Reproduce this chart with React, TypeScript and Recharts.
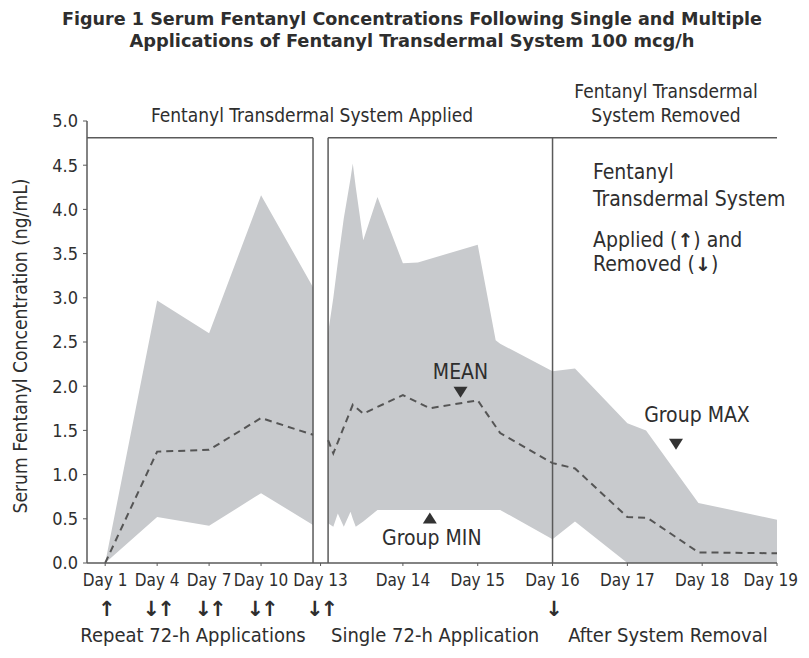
import {
  ComposedChart,
  Area,
  Line,
  XAxis,
  YAxis,
  ReferenceLine,
  ReferenceDot,
} from "recharts";

const FONT = "'Liberation Sans Narrow', 'DejaVu Sans Condensed', 'Arial Narrow', sans-serif";
const ARROW_FONT = "'DejaVu Sans', sans-serif";
const INK = "#2e2e2e";
const BAND = "#c8cacd";
const RULE = "#5a5a5a";

// x layout: repeat phase = 1 unit per 3 days, single phase = 1.44 units per day
const REPEAT_START = 0.35;
const SINGLE_START = 4.64;
const SINGLE_STEP = 1.44;
const X_MAX = 13.28;
const repeatX = (day: number) => REPEAT_START + (day - 1) / 3;
const singleX = (day: number) => SINGLE_START + (day - 13) * SINGLE_STEP;

// repeat 72-h applications, days 1-13
const repeatDays = [1, 4, 7, 10, 13];
const repeatMean = [0, 1.26, 1.28, 1.64, 1.45];
const repeatMin = [0, 0.52, 0.42, 0.79, 0.43];
const repeatMax = [0, 2.97, 2.6, 4.16, 3.12];

// single 72-h application and after removal, days 13-19
const singleDays = [
  13.0, 13.07, 13.13, 13.21, 13.3, 13.33, 13.37, 13.47, 13.66, 14.0,
  14.2, 15.0, 15.24, 15.3, 16.0, 16.3, 17.0, 17.25, 17.95, 19.0,
];
const singleMin = [
  0.45, 0.41, 0.56, 0.41, 0.58, 0.5, 0.41, 0.47, 0.6, 0.6,
  0.6, 0.6, 0.6, 0.6, 0.27, 0.47, 0, 0, 0, 0,
];
const singleMax = [
  2.6, 3.0, 3.4, 3.9, 4.35, 4.52, 4.25, 3.65, 4.14, 3.39,
  3.4, 3.6, 2.52, 2.48, 2.17, 2.2, 1.58, 1.5, 0.68, 0.49,
];
const singleMeanDays = [13.0, 13.07, 13.33, 13.47, 14.0, 14.36, 15.0, 15.3, 16.0, 16.3, 17.0, 17.27, 17.95, 19.0];
const singleMean = [1.39, 1.24, 1.79, 1.69, 1.9, 1.75, 1.84, 1.47, 1.13, 1.07, 0.52, 0.51, 0.12, 0.11];

// tick labels and application arrows
const dayLabels = ["Day 1", "Day 4", "Day 7", "Day 10", "Day 13", "Day 14", "Day 15", "Day 16", "Day 17", "Day 18", "Day 19"];
const dayArrows = ["\u2191", "\u2193\u2191", "\u2193\u2191", "\u2193\u2191", "\u2193\u2191", "", "", "\u2193", "", "", ""];
const dayTicks = [
  repeatX(1), repeatX(4), repeatX(7), repeatX(10),
  (repeatX(13) + singleX(13)) / 2,
  singleX(14), singleX(15), singleX(16), singleX(17), singleX(18), singleX(19),
];
const yTicks = [0, 0.5, 1, 1.5, 2, 2.5, 3, 3.5, 4, 4.5, 5];
const BOX_TOP = 4.81;

const repeatBand = repeatDays.map((d, i) => ({ x: repeatX(d), range: [repeatMin[i], repeatMax[i]] }));
const repeatLine = repeatDays.map((d, i) => ({ x: repeatX(d), mean: repeatMean[i] }));
const singleBand = singleDays.map((d, i) => ({ x: singleX(d), range: [singleMin[i], singleMax[i]] }));
const singleLine = singleMeanDays.map((d, i) => ({ x: singleX(d), mean: singleMean[i] }));

function DayTick(props: any) {
  const { x, y, payload } = props;
  const i = dayTicks.findIndex((t) => Math.abs(t - payload.value) < 1e-6);
  if (i < 0) return null;
  const last = i === dayTicks.length - 1;
  return (
    <g fontFamily={FONT} fill={INK}>
      <text x={last ? x + 21 : x} y={y + 20} textAnchor={last ? "end" : "middle"} fontSize={17}>
        {dayLabels[i]}
      </text>
      <text x={x} y={y + 50} textAnchor="middle" fontSize={21} fontWeight="bold" fontFamily={ARROW_FONT} letterSpacing={-3}>
        {dayArrows[i]}
      </text>
    </g>
  );
}

// triangle marker with a caption, drawn at a data point
function Marker({ cx, cy, up, text, dx = 0, dy }: any) {
  const w = 7;
  const h = 11;
  const path = up
    ? `M${cx - w},${cy + h} L${cx + w},${cy + h} L${cx},${cy} Z`
    : `M${cx - w},${cy - h} L${cx + w},${cy - h} L${cx},${cy} Z`;
  return (
    <g>
      <path d={path} fill="#333" />
      <text x={cx + dx} y={cy + dy} textAnchor="middle" fontFamily={FONT} fontSize={21} fill={INK}>
        {text}
      </text>
    </g>
  );
}

export default function App() {
  const W = 793;
  const H = 640;
  return (
    <div style={{ position: "relative", width: W, height: H, background: "#fff" }}>
      <ComposedChart
        width={W}
        height={H}
        margin={{ top: 113, right: 24, bottom: 35, left: 19 }}
        style={{ overflow: "visible" }}
      >
        <XAxis
          type="number"
          dataKey="x"
          domain={[0, X_MAX]}
          ticks={dayTicks}
          interval={0}
          allowDataOverflow
          height={50}
          tickSize={3}
          tickMargin={0}
          tick={<DayTick />}
          axisLine={{ stroke: RULE, strokeWidth: 1.5 }}
          tickLine={{ stroke: RULE }}
        />
        <YAxis
          type="number"
          domain={[0, 5]}
          ticks={yTicks}
          interval={0}
          width={60}
          tickSize={4}
          tickMargin={5}
          tickFormatter={(v: number) => v.toFixed(1)}
          tick={{ fill: INK, fontSize: 18, fontFamily: FONT }}
          axisLine={{ stroke: RULE, strokeWidth: 1.5 }}
          tickLine={{ stroke: RULE }}
        />

        {/* min-max band */}
        <Area data={repeatBand} dataKey="range" type="linear" fill={BAND} fillOpacity={1} stroke="none" isAnimationActive={false} />
        <Area data={singleBand} dataKey="range" type="linear" fill={BAND} fillOpacity={1} stroke="none" isAnimationActive={false} />

        {/* phase boxes */}
        <ReferenceLine segment={[{ x: 0, y: BOX_TOP }, { x: repeatX(13), y: BOX_TOP }]} stroke={RULE} strokeWidth={1.5} ifOverflow="visible" />
        <ReferenceLine segment={[{ x: singleX(13), y: BOX_TOP }, { x: X_MAX, y: BOX_TOP }]} stroke={RULE} strokeWidth={1.5} ifOverflow="visible" />
        <ReferenceLine segment={[{ x: repeatX(13), y: 0 }, { x: repeatX(13), y: BOX_TOP }]} stroke={RULE} strokeWidth={1.5} ifOverflow="visible" />
        <ReferenceLine segment={[{ x: singleX(13), y: 0 }, { x: singleX(13), y: BOX_TOP }]} stroke={RULE} strokeWidth={1.5} ifOverflow="visible" />
        <ReferenceLine segment={[{ x: singleX(16), y: 0 }, { x: singleX(16), y: BOX_TOP }]} stroke={RULE} strokeWidth={1.5} ifOverflow="visible" />

        {/* mean */}
        <Line data={repeatLine} dataKey="mean" type="linear" stroke="#555" strokeWidth={2} strokeDasharray="7 5" dot={false} isAnimationActive={false} />
        <Line data={singleLine} dataKey="mean" type="linear" stroke="#555" strokeWidth={2} strokeDasharray="7 5" dot={false} isAnimationActive={false} />

        <ReferenceDot x={singleX(14.77)} y={1.87} r={0} ifOverflow="visible"
          shape={(p: any) => <Marker cx={p.cx} cy={p.cy} up={false} text="MEAN" dy={-19} />} />
        <ReferenceDot x={singleX(14.36)} y={0.57} r={0} ifOverflow="visible"
          shape={(p: any) => <Marker cx={p.cx} cy={p.cy} up text="Group MIN" dx={2} dy={32} />} />
        <ReferenceDot x={singleX(17.65)} y={1.28} r={0} ifOverflow="visible"
          shape={(p: any) => <Marker cx={p.cx} cy={p.cy} up={false} text="Group MAX" dx={21} dy={-28} />} />
      </ComposedChart>

      <svg width={W} height={H} style={{ position: "absolute", left: 0, top: 0, pointerEvents: "none", overflow: "visible" }} fontFamily={FONT} fill={INK}>
        <text x={404} y={17} textAnchor="middle" fontSize={18} fontWeight="bold" textLength={700} lengthAdjust="spacingAndGlyphs">
          Figure 1 Serum Fentanyl Concentrations Following Single and Multiple
        </text>
        <text x={404} y={39} textAnchor="middle" fontSize={18} fontWeight="bold" textLength={565} lengthAdjust="spacingAndGlyphs">
          Applications of Fentanyl Transdermal System 100 mcg/h
        </text>

        <text x={304} y={114} textAnchor="middle" fontSize={19}>Fentanyl Transdermal System Applied</text>
        <text x={658} y={90} textAnchor="middle" fontSize={19}>Fentanyl Transdermal</text>
        <text x={658} y={114} textAnchor="middle" fontSize={19}>System Removed</text>

        <text x={585} y={171} fontSize={21}>Fentanyl</text>
        <text x={585} y={198} fontSize={21}>Transdermal System</text>
        <text x={585} y={239} fontSize={21}>Applied (<tspan fontFamily={ARROW_FONT} fontSize={19} fontWeight="bold">{"\u2191"}</tspan>) and</text>
        <text x={585} y={263} fontSize={21}>Removed (<tspan fontFamily={ARROW_FONT} fontSize={19} fontWeight="bold">{"\u2193"}</tspan>)</text>

        <text x={12} y={338} textAnchor="middle" dominantBaseline="central" fontSize={19} textLength={335} lengthAdjust="spacingAndGlyphs" transform="rotate(-90 12 338)">
          Serum Fentanyl Concentration (ng/mL)
        </text>

        <text x={185} y={634} textAnchor="middle" fontSize={20}>Repeat 72-h Applications</text>
        <text x={427} y={634} textAnchor="middle" fontSize={20}>Single 72-h Application</text>
        <text x={660} y={634} textAnchor="middle" fontSize={20}>After System Removal</text>
      </svg>
    </div>
  );
}
